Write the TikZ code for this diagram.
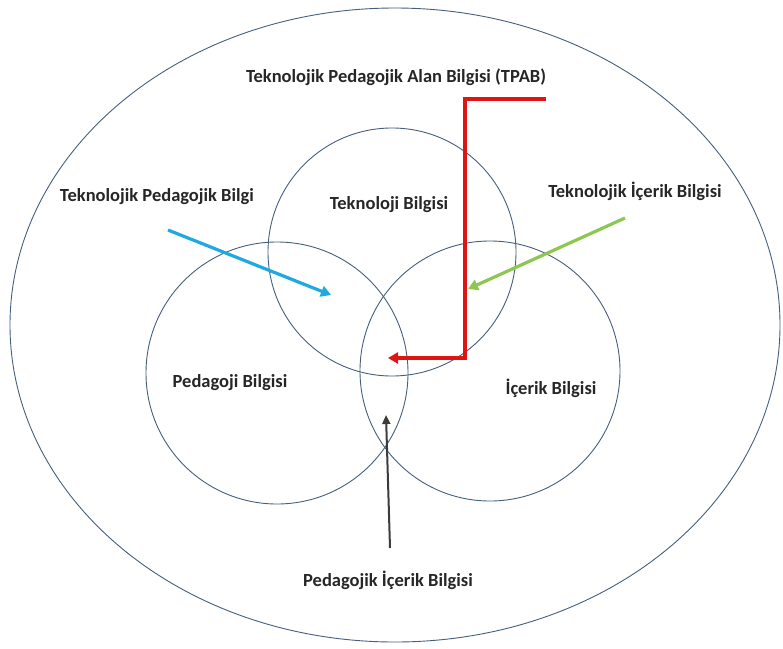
\documentclass[tikz,border=0pt]{standalone}
\usepackage{fontspec}
\setmainfont{Carlito}
\usetikzlibrary{arrows.meta}
\definecolor{ringc}{RGB}{70,95,125}
\definecolor{tpabred}{RGB}{225,20,20}
\definecolor{tpbblue}{RGB}{30,170,225}
\definecolor{tibgreen}{RGB}{140,200,80}
\definecolor{pibgray}{RGB}{60,60,60}
\tikzset{
  ring/.style={draw=ringc,line width=0.9pt},
  lbl/.style={font=\bfseries\fontsize{18.5}{20}\selectfont,text=black!85},
  pointer/.style={line width=3.2pt,-{Triangle[length=10pt,width=11pt]}}
}
\begin{document}
\begin{tikzpicture}[x=1pt,y=-1pt]
\useasboundingbox (0,0) rectangle (783,648);
\draw[ring](395,325) ellipse [x radius=385,y radius=317];
\draw[ring](392,252) circle (124);
\draw[ring](277,373) circle (131);
\draw[ring](490,371) circle (130);
    \node[lbl](TPAB) at (396,77){Teknolojik Pedagojik Alan Bilgisi (TPAB)};
    \node[lbl](TB) at (389,205){Teknoloji Bilgisi};
    \node[lbl](TPB) at (157,197){Teknolojik Pedagojik Bilgi};
    \node[lbl](TIB) at (635,191){Teknolojik İçerik Bilgisi};
    \node[lbl](PB) at (230,383){Pedagoji Bilgisi};
    \node[lbl](IB) at (551,388){İçerik Bilgisi};
    \node[lbl](PIB) at (388,580){Pedagojik İçerik Bilgisi};
    \coordinate(R1) at (546,99);
    \coordinate(R2) at (388,358);
    \coordinate(B1) at (168,230);
    \coordinate(B2) at (331,295);
    \coordinate(G1) at (625,218);
    \coordinate(G2) at (468,289);
    \coordinate(K1) at (390,548);
    \coordinate(K2) at (386,415);
    \draw[pointer,tpabred](R1)-|(465,358)--(R2);
    \draw[pointer,tpbblue](B1)--(B2);
    \draw[pointer,tibgreen](G1)--(G2);
    \draw[pibgray,line width=2pt,-{Triangle[length=9pt,width=8pt]}](K1)--(K2);
\end{tikzpicture}
\end{document}
